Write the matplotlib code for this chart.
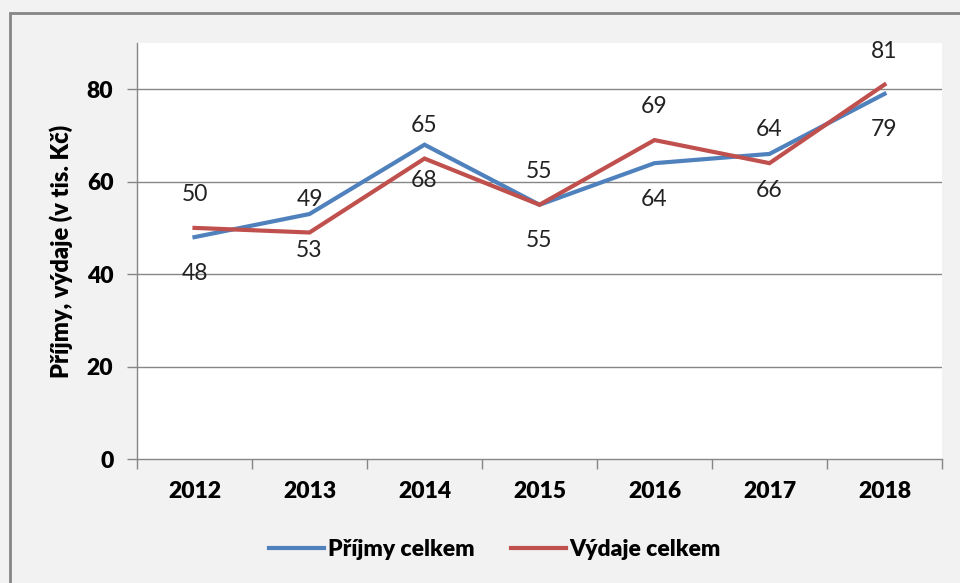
import matplotlib.pyplot as plt
from matplotlib.patches import Rectangle

years = ["2012", "2013", "2014", "2015", "2016", "2017", "2018"]
prijmy = [48, 53, 68, 55, 64, 66, 79]
vydaje = [50, 49, 65, 55, 69, 64, 81]

plt.rcParams['font.family'] = ['Lato', 'DejaVu Sans']

blue = "#4f81bd"
red = "#c0504d"
gray = "#868686"

fig = plt.figure(figsize=(9.6, 5.83), dpi=100, facecolor="#f2f2f2")
# outer chart frame (cut off on the right and bottom)
fig.patches.append(Rectangle((10 / 960, -0.1), 1.2, 1 - 13 / 583 + 0.1, transform=fig.transFigure,
                             facecolor="none", edgecolor=gray, linewidth=2))

ax = fig.add_axes([137 / 960, 1 - 459 / 583, 805 / 960, 416 / 583])
ax.set_facecolor("white")

x = list(range(len(years)))
ax.plot(x, prijmy, color=blue, linewidth=3, label="Příjmy celkem", solid_joinstyle="miter")
ax.plot(x, vydaje, color=red, linewidth=3, label="Výdaje celkem", solid_joinstyle="miter")

# data labels: red ones above, blue ones below (as in the original)
for xi, v in zip(x, vydaje):
    ax.annotate(str(v), (xi, v), xytext=(0, 24), textcoords="offset points",
                ha="center", va="center", fontsize=16.5, color="#222222")
for xi, v in zip(x, prijmy):
    ax.annotate(str(v), (xi, v), xytext=(0, -26), textcoords="offset points",
                ha="center", va="center", fontsize=16.5, color="#222222")

ax.set_xlim(-0.5, len(years) - 0.5)
ax.set_ylim(0, 90)
ax.set_yticks([0, 20, 40, 60, 80])
ax.set_xticks(x)
ax.set_xticklabels(years, fontweight="heavy", fontsize=16.5)
ax.set_xticks([i - 0.5 for i in range(len(years) + 1)], minor=True)
ax.tick_params(axis="x", which="major", length=0, pad=16)
ax.tick_params(axis="x", which="minor", length=7, color=gray, width=1)
ax.tick_params(axis="y", length=7, color=gray, width=1, pad=10, labelsize=16.5)
for t in ax.get_yticklabels():
    t.set_fontweight("heavy")

for y in [20, 40, 60, 80]:
    ax.axhline(y, color=gray, linewidth=1, zorder=0)

for s in ["top", "right"]:
    ax.spines[s].set_visible(False)
for s in ["left", "bottom"]:
    ax.spines[s].set_color(gray)
    ax.spines[s].set_linewidth(1)

ax.set_ylabel("Příjmy, výdaje (v tis. Kč)", fontweight="heavy", fontsize=17, labelpad=10)

fig.legend(loc="center", bbox_to_anchor=(495 / 960, 1 - 550 / 583), ncol=2, frameon=False,
           prop={"weight": "heavy", "size": 16.5}, handlelength=2.4, handletextpad=0.15,
           columnspacing=1.6)

fig.savefig("out.png", dpi=100, facecolor=fig.get_facecolor())
